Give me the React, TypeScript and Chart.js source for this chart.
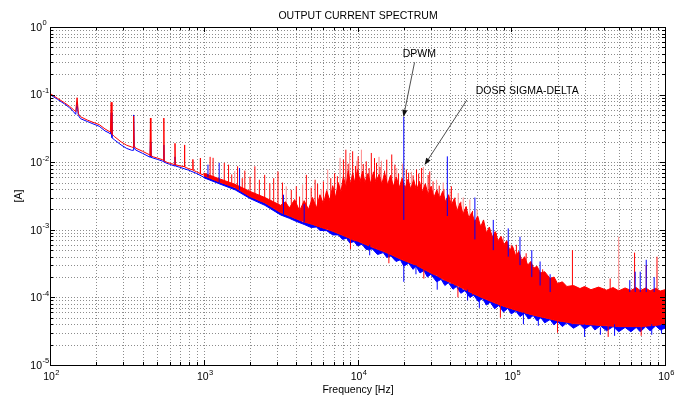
import { useEffect, useRef } from "react";
import { Chart, registerables } from "chart.js";
Chart.register(...registerables);

// ---------- text ----------
const chartTitle = "OUTPUT CURRENT SPECTRUM";
const xTitle = "Frequency [Hz]";
const yTitle = "[A]";

// ---------- axes ----------
const xMajorTicks = [1e2, 1e3, 1e4, 1e5, 1e6];
const yMajorTicks = [1e-5, 1e-4, 1e-3, 1e-2, 1e-1, 1];
const minorSteps = [2, 3, 4, 5, 6, 7, 8, 9];

// ---------- low-frequency lines [Hz, A] ----------
const redLine: [number, number][] = [
  [100, 0.104], [112, 0.088], [124, 0.076], [134, 0.067], [142, 0.06], [147, 0.056],
  [150, 0.09], [153, 0.052], [158, 0.047], [175, 0.042], [190, 0.039], [209, 0.036],
  [228, 0.031], [243, 0.0285], [247, 0.028], [250, 0.077], [253, 0.026], [262, 0.024],
  [290, 0.02], [315, 0.0178], [340, 0.0168], [347, 0.0165], [350, 0.048], [353, 0.0175],
  [360, 0.0162], [400, 0.0145], [443, 0.0129], [447, 0.0127], [450, 0.045], [453, 0.0125],
  [470, 0.012], [500, 0.0115], [538, 0.0109], [547, 0.0107], [550, 0.045], [553, 0.0104],
  [580, 0.0099], [620, 0.0095], [647, 0.0092], [650, 0.019], [653, 0.0092], [700, 0.0088],
  [748, 0.0086], [750, 0.018], [752, 0.0085], [800, 0.008], [847, 0.0077], [850, 0.011],
  [853, 0.0076], [900, 0.0072], [948, 0.0068], [950, 0.0115], [952, 0.0067], [1000, 0.0065],
];
const blueLine: [number, number][] = [
  [100, 0.1], [112, 0.085], [124, 0.073], [134, 0.064], [142, 0.056], [147, 0.051],
  [150, 0.076], [153, 0.049], [158, 0.044], [175, 0.04], [190, 0.037], [209, 0.034],
  [228, 0.029], [243, 0.027], [247, 0.026], [250, 0.054], [253, 0.023], [262, 0.0215],
  [290, 0.018], [315, 0.016], [340, 0.015], [347, 0.015], [350, 0.05], [353, 0.0165],
  [360, 0.0152], [400, 0.0135], [443, 0.012], [447, 0.0119], [450, 0.02], [453, 0.0118],
  [500, 0.011], [538, 0.0104], [547, 0.0102], [550, 0.018], [553, 0.01], [600, 0.0093],
  [647, 0.0088], [650, 0.012], [653, 0.0088], [700, 0.0084], [800, 0.0076], [900, 0.0068],
  [1000, 0.006],
];

// ---------- noise band: lower edge of the red trace ----------
const redBottomFreq = [
  1000, 1260, 1600, 2000, 2500, 3160, 3600, 4000, 4500, 5000, 5700, 6300, 6900, 7500, 8000,
  8500, 8900, 9500, 10000, 11400, 12500, 14700, 16500, 19000, 21500, 24000, 27000, 30000,
  32700, 37000, 41800, 47000, 53800, 61000, 69000, 78000, 89000, 100000, 114000, 130000,
  147000, 165000, 179000, 200000, 230000, 254000, 300000, 350000, 417000, 500000, 600000,
  690000, 800000, 900000, 1000000,
];
const redBottom = [
  0.0063, 0.0051, 0.0042, 0.0031, 0.0025, 0.0018, 0.0016, 0.00145, 0.0013, 0.00122, 0.0011,
  0.00102, 0.00095, 0.00088, 0.00083, 0.00078, 0.00075, 0.0007, 0.00068, 0.0006, 0.00055,
  0.00048, 0.00043, 0.00037, 0.00033, 0.0003, 0.00026, 0.00023, 0.00021, 0.00018, 0.00016,
  0.00014, 0.00012, 0.000105, 0.000093, 0.000083, 0.000074, 0.000068, 0.000062, 0.000057,
  0.000053, 0.00005, 0.000048, 0.000045, 0.000043, 0.000041, 0.00004, 0.000039, 0.000038,
  0.000037, 0.000037, 0.000037, 0.000038, 0.000039, 0.00004,
];

// ---------- noise band: ragged lower edge of the blue trace [Hz, A] ----------
const blueBottom: [number, number][] = [
  [1000, 0.0059], [1260, 0.0048], [1600, 0.0039], [2000, 0.0029], [2500, 0.0023], [3160, 0.00166],
  [3600, 0.00148], [4000, 0.00133], [4500, 0.0012], [5000, 0.00108], [5400, 0.0011], [5700, 0.00098],
  [6300, 0.00097], [6900, 0.00084], [7500, 0.00084], [8000, 0.00072], [8500, 0.00075], [8900, 0.00064],
  [9500, 0.00067], [10000, 0.00058], [10700, 0.00061], [11400, 0.00051], [12500, 0.00052], [13500, 0.00043],
  [14700, 0.00046], [15500, 0.00039], [16500, 0.00041], [17800, 0.00034], [19000, 0.00036], [20000, 0.00029],
  [21500, 0.00032], [23000, 0.00026], [24000, 0.00029], [25500, 0.00023], [27000, 0.00025], [28500, 0.0002],
  [30000, 0.00022], [32700, 0.00017], [35000, 0.000185], [37000, 0.00015], [39000, 0.000165], [41800, 0.000132],
  [44000, 0.000145], [47000, 0.000115], [50000, 0.000126], [53800, 0.0001], [57000, 0.000108], [61000, 0.000087],
  [65000, 0.000096], [69000, 0.000077], [73000, 0.000085], [78000, 0.000068], [83000, 0.000076], [89000, 0.000061],
  [95000, 0.000069], [100000, 0.000057], [107000, 0.000063], [114000, 0.000052], [122000, 0.000058], [130000, 0.000048],
  [139000, 0.000054], [147000, 0.000045], [156000, 0.00005], [165000, 0.000042], [179000, 0.000047], [190000, 0.000039],
  [200000, 0.000044], [215000, 0.000037], [230000, 0.000042], [254000, 0.000035], [280000, 0.00004], [300000, 0.000034],
  [330000, 0.000039], [350000, 0.000033], [380000, 0.000038], [417000, 0.000032], [460000, 0.000037], [500000, 0.000031],
  [550000, 0.000036], [600000, 0.000031], [650000, 0.000036], [690000, 0.000031], [750000, 0.000037], [800000, 0.000032],
  [870000, 0.000038], [930000, 0.000033], [1000000, 0.000035],
];

// ---------- noise band: ragged upper edge of the red core [Hz, A] ----------
const redTop: [number, number][] = [
  [1000, 0.0069], [1260, 0.0057], [1600, 0.0047], [2000, 0.0037], [2500, 0.003], [3160, 0.0023],
  [3400, 0.0026], [3600, 0.0021], [3900, 0.0028], [4200, 0.0019], [4500, 0.0027], [4800, 0.002],
  [5100, 0.003], [5400, 0.0021], [5700, 0.0033], [6000, 0.0024], [6300, 0.0038], [6600, 0.0027],
  [6900, 0.0045], [7200, 0.003], [7500, 0.005], [7800, 0.0036], [8100, 0.0062], [8400, 0.0042],
  [8700, 0.0075], [9000, 0.0047], [9300, 0.007], [9600, 0.005], [10000, 0.0078], [10400, 0.0052],
  [10800, 0.0074], [11200, 0.005], [11700, 0.0068], [12200, 0.0048], [12700, 0.0072], [13200, 0.005],
  [13800, 0.0066], [14400, 0.0047], [15000, 0.007], [15700, 0.0046], [16400, 0.0064], [17100, 0.0044],
  [17900, 0.006], [18700, 0.0042], [19500, 0.0058], [20400, 0.0041], [21300, 0.0056], [22200, 0.004],
  [23200, 0.0055], [24200, 0.0038], [25300, 0.0052], [26400, 0.0036], [27600, 0.0048], [28800, 0.0033],
  [30100, 0.0044], [31400, 0.003], [32800, 0.0039], [34300, 0.0029], [35800, 0.0037], [37400, 0.0026],
  [39100, 0.0033], [40800, 0.0023], [42600, 0.0029], [44500, 0.0019], [46500, 0.0025], [48600, 0.0017],
  [50800, 0.0022], [53000, 0.0015], [55400, 0.0018], [57900, 0.0013], [60500, 0.0016], [63200, 0.0011],
  [66000, 0.0014], [69000, 0.0009], [72000, 0.0011], [75300, 0.00078], [78600, 0.00094], [82100, 0.00069],
  [85800, 0.0008], [89600, 0.0006], [93600, 0.00069], [97800, 0.0005], [102000, 0.00057], [107000, 0.00041],
  [112000, 0.00048], [117000, 0.00035], [122000, 0.0004], [128000, 0.0003], [134000, 0.00034], [140000, 0.00027],
  [147000, 0.00029], [155000, 0.00023], [165000, 0.00024], [179000, 0.00019], [190000, 0.0002], [200000, 0.00016],
  [215000, 0.00017], [230000, 0.000145], [254000, 0.00015], [280000, 0.000135], [300000, 0.000145], [330000, 0.00013],
  [370000, 0.000142], [417000, 0.000128], [460000, 0.00014], [500000, 0.000125], [550000, 0.000138], [600000, 0.000127],
  [650000, 0.00014], [690000, 0.000126], [750000, 0.000138], [800000, 0.000125], [870000, 0.000136], [930000, 0.000124],
  [1000000, 0.00013],
];

// ---------- spikes [Hz, from A, to A] ----------
const redSpikes: [number, number, number][] = [
  [1100, 0.006, 0.012], [1150, 0.0057, 0.0116], [1360, 0.0048, 0.0098], [1450, 0.0045, 0.0092],
  [1520, 0.0044, 0.0066], [1660, 0.004, 0.0087], [1780, 0.0037, 0.0058], [1850, 0.0034, 0.0075],
  [2000, 0.0031, 0.0061], [2150, 0.0029, 0.0087], [2300, 0.0027, 0.0055], [2490, 0.0025, 0.0065],
  [2690, 0.0023, 0.0049], [2850, 0.0021, 0.0058], [3040, 0.0019, 0.0073], [3250, 0.0018, 0.005],
  [3710, 0.0016, 0.0039], [4000, 0.00145, 0.0044], [4200, 0.0014, 0.0031], [4650, 0.0013, 0.0065],
  [5000, 0.0012, 0.0042], [5300, 0.00115, 0.0055], [5500, 0.0011, 0.0048], [6000, 0.00105, 0.0052],
  [6700, 0.001, 0.0058], [7100, 0.00095, 0.0069], [7400, 0.0009, 0.0062], [8100, 0.00085, 0.0109],
  [8400, 0.00082, 0.0153], [8700, 0.0008, 0.0095], [9300, 0.0007, 0.0145], [9700, 0.0007, 0.0088],
  [10100, 0.0007, 0.0122], [10900, 0.00065, 0.0094], [11400, 0.0006, 0.0103], [11900, 0.0006, 0.0082],
  [12300, 0.00058, 0.0137], [12900, 0.00056, 0.0115], [13300, 0.00055, 0.0098], [14000, 0.0005, 0.0085],
  [15000, 0.00048, 0.0075], [15500, 0.00046, 0.0109], [16700, 0.00043, 0.013], [17500, 0.0004, 0.0092],
  [18500, 0.0004, 0.0068], [20800, 0.00035, 0.0078], [21500, 0.00033, 0.007], [23000, 0.00031, 0.0064],
  [24200, 0.0003, 0.0078], [25000, 0.00029, 0.0068], [26100, 0.00028, 0.0082], [28800, 0.00026, 0.0065],
  [29500, 0.00025, 0.0073], [31000, 0.00022, 0.0052], [34000, 0.0002, 0.0045], [36500, 0.00018, 0.004],
  [40800, 0.00016, 0.0044], [43000, 0.00015, 0.003], [47000, 0.00014, 0.0026], [51000, 0.00013, 0.0022],
  [56000, 0.00011, 0.0019], [62600, 0.0001, 0.0012], [66000, 0.0001, 0.0011], [72000, 0.00009, 0.001],
  [80000, 0.00008, 0.0009], [100000, 0.00007, 0.0006], [108000, 0.00007, 0.0006], [125000, 0.00006, 0.00045],
  [160000, 0.00005, 0.00026], [250000, 0.00004, 0.0005], [440000, 0.000038, 0.00019], [634000, 0.000037, 0.00046],
  [755000, 0.000037, 0.0003], [887000, 0.000038, 0.0004],
  [9000, 0.00052, 0.0008], [16000, 0.00032, 0.00045], [27000, 0.00019, 0.00027], [45000, 0.0001, 0.00014],
  [85000, 0.00005, 0.00008], [200000, 0.00003, 0.000045], [427000, 0.000026, 0.00004], [700000, 0.000027, 0.00004],
];
const faintRedSpikes: [number, number, number][] = [
  [1590, 0.0042, 0.0074], [3440, 0.0017, 0.0044], [4400, 0.0013, 0.0047], [5800, 0.0011, 0.004],
  [6400, 0.001, 0.0078], [7700, 0.0009, 0.0116], [8900, 0.00075, 0.0137], [9900, 0.0007, 0.0105],
  [10600, 0.00066, 0.0153], [13800, 0.00052, 0.012], [14300, 0.0005, 0.0105], [18000, 0.0004, 0.0082],
  [19600, 0.0004, 0.0095], [22400, 0.00032, 0.0072], [26800, 0.0003, 0.0085], [32700, 0.00021, 0.0055],
  [36100, 0.00018, 0.005], [40000, 0.00016, 0.004], [45200, 0.00014, 0.0035], [48700, 0.00013, 0.003],
  [53800, 0.00012, 0.0028], [60000, 0.00011, 0.002], [89000, 0.000075, 0.00079], [500000, 0.000038, 0.00079],
];
const blueSpikes: [number, number, number][] = [
  [1065, 0.006, 0.0092], [1260, 0.005, 0.0098], [1710, 0.0039, 0.0082], [3300, 0.0017, 0.0033],
  [4500, 0.0013, 0.0024], [20000, 0.0014, 0.047], [20000, 0.00017, 0.0003], [33000, 0.00013, 0.0002],
  [38400, 0.0016, 0.0122], [58000, 0.00072, 0.003], [62000, 0.00007, 0.0001], [76400, 0.0005, 0.0014],
  [95600, 0.0004, 0.00105], [114000, 0.0003, 0.00079], [120000, 0.00004, 0.00006], [136000, 0.0002, 0.0005],
  [154000, 0.00015, 0.00034], [179000, 0.00012, 0.00022], [300000, 0.000026, 0.00004],
  [470000, 0.000027, 0.00004], [590000, 0.00012, 0.00018], [640000, 0.00012, 0.00024],
  [690000, 0.00012, 0.00024], [755000, 0.00012, 0.00036], [820000, 0.000028, 0.00004],
  [850000, 0.00012, 0.0002], [12000, 0.00042, 0.0006], [24000, 0.00022, 0.0003], [52000, 0.00009, 0.00013],
  [150000, 0.000038, 0.00005], [380000, 0.000028, 0.000036], [950000, 0.000029, 0.00004],
];

// ---------- annotations (data coordinates) ----------
const dpwmLabel = { text: "DPWM", x: 19700, y: 0.36, tailX: 23500, tailY: 0.3, tipX: 19900, tipY: 0.0467 };
const dosrLabel = { text: "DOSR SIGMA-DELTA", x: 58800, y: 0.103, tailX: 51400, tailY: 0.083, tipX: 27300, tipY: 0.0091 };

const FONT = '"Liberation Sans", Arial, Helvetica, sans-serif';
const RED = "#ff0000";
const BLUE = "#0000ff";
const PINK = "#ff8a8a";

const pts = (a: [number, number][]) => a.map(([x, y]) => ({ x, y }));
const spikes = (s: [number, number, number][]) =>
  s
    .slice()
    .sort((a, b) => a[0] - b[0])
    .flatMap(([f, lo, hi]) => [{ x: f, y: lo }, { x: f, y: hi }, { x: f, y: NaN }]);

const matlabPlugin = {
  id: "matlabAxes",
  beforeDatasetsDraw(chart: any) {
    const { ctx, chartArea } = chart;
    const { left, right, top, bottom } = chartArea;
    const xs = chart.scales.x;
    const ys = chart.scales.y;
    ctx.save();
    ctx.fillStyle = "#ffffff";
    ctx.fillRect(left, top, right - left, bottom - top);
    ctx.strokeStyle = "#8c8c8c";
    ctx.lineWidth = 1;
    ctx.setLineDash([1, 2]);
    const xGrid = xMajorTicks.concat(xMajorTicks.slice(0, -1).flatMap((m) => minorSteps.map((k) => m * k)));
    const yGrid = yMajorTicks.concat(yMajorTicks.slice(0, -1).flatMap((m) => minorSteps.map((k) => m * k)));
    ctx.beginPath();
    for (const v of xGrid) {
      const p = Math.round(xs.getPixelForValue(v)) + 0.5;
      ctx.moveTo(p, top);
      ctx.lineTo(p, bottom);
    }
    for (const v of yGrid) {
      const p = Math.round(ys.getPixelForValue(v)) + 0.5;
      ctx.moveTo(left, p);
      ctx.lineTo(right, p);
    }
    ctx.stroke();
    ctx.restore();
  },
  afterDatasetsDraw(chart: any) {
    const { ctx, chartArea } = chart;
    const { left, right, top, bottom } = chartArea;
    const xs = chart.scales.x;
    const ys = chart.scales.y;
    ctx.save();
    ctx.strokeStyle = "#000";
    ctx.lineWidth = 1;
    ctx.setLineDash([]);
    ctx.strokeRect(left + 0.5, top + 0.5, right - left, bottom - top);
    ctx.beginPath();
    const tickX = (v: number, len: number) => {
      const p = Math.round(xs.getPixelForValue(v)) + 0.5;
      ctx.moveTo(p, bottom);
      ctx.lineTo(p, bottom - len);
      ctx.moveTo(p, top);
      ctx.lineTo(p, top + len);
    };
    const tickY = (v: number, len: number) => {
      const p = Math.round(ys.getPixelForValue(v)) + 0.5;
      ctx.moveTo(left, p);
      ctx.lineTo(left + len, p);
      ctx.moveTo(right, p);
      ctx.lineTo(right - len, p);
    };
    xMajorTicks.forEach((m, i) => {
      tickX(m, 5);
      if (i < xMajorTicks.length - 1) minorSteps.forEach((k) => tickX(m * k, 3));
    });
    yMajorTicks.forEach((m, i) => {
      tickY(m, 5);
      if (i < yMajorTicks.length - 1) minorSteps.forEach((k) => tickY(m * k, 3));
    });
    ctx.stroke();

    ctx.fillStyle = "#000";
    ctx.textBaseline = "alphabetic";
    const big = `10.5px ${FONT}`;
    const small = `7.5px ${FONT}`;
    for (const v of xMajorTicks) {
      const px = xs.getPixelForValue(v);
      const e = String(Math.round(Math.log10(v)));
      ctx.font = big;
      const w1 = ctx.measureText("10").width;
      ctx.textAlign = "left";
      ctx.fillText("10", px - w1 / 2 - 1, 380);
      ctx.font = small;
      ctx.fillText(e, px + w1 / 2 - 0.5, 375);
    }
    for (const v of yMajorTicks) {
      const py = ys.getPixelForValue(v);
      const e = String(Math.round(Math.log10(v)));
      ctx.font = big;
      ctx.textAlign = "right";
      ctx.fillText("10", 42, py + 3.8);
      ctx.font = small;
      ctx.textAlign = "left";
      ctx.fillText(e, 42.5, py - 1.6);
    }

    ctx.font = big;
    ctx.textAlign = "center";
    ctx.fillText(chartTitle, (left + right) / 2 + 0.5, 19.3);
    ctx.fillText(xTitle, (left + right) / 2 + 0.5, 392.6);
    ctx.save();
    ctx.translate(22, (top + bottom) / 2);
    ctx.rotate(-Math.PI / 2);
    ctx.fillText(yTitle, 0, 0);
    ctx.restore();

    const arrow = (x1: number, y1: number, x2: number, y2: number) => {
      const a = Math.atan2(y2 - y1, x2 - x1);
      const hl = 7, hw = 2.6;
      const c = Math.cos(a), s = Math.sin(a);
      ctx.strokeStyle = "#3a3a3a";
      ctx.lineWidth = 0.9;
      ctx.beginPath();
      ctx.moveTo(x1, y1);
      ctx.lineTo(x2 - hl * c, y2 - hl * s);
      ctx.stroke();
      ctx.fillStyle = "#111";
      ctx.beginPath();
      ctx.moveTo(x2, y2);
      ctx.lineTo(x2 - hl * c + hw * s, y2 - hl * s - hw * c);
      ctx.lineTo(x2 - hl * c - hw * s, y2 - hl * s + hw * c);
      ctx.closePath();
      ctx.fill();
    };
    for (const L of [dpwmLabel, dosrLabel]) {
      ctx.font = big;
      ctx.fillStyle = "#000";
      ctx.textAlign = "left";
      ctx.fillText(L.text, xs.getPixelForValue(L.x), ys.getPixelForValue(L.y));
      arrow(
        xs.getPixelForValue(L.tailX), ys.getPixelForValue(L.tailY),
        xs.getPixelForValue(L.tipX), ys.getPixelForValue(L.tipY)
      );
    }
    ctx.restore();
  },
};

export default function App() {
  const ref = useRef<HTMLCanvasElement>(null);
  useEffect(() => {
    document.body.style.margin = "0";
    document.body.style.background = "#ffffff";
    const line = { pointRadius: 0, borderWidth: 1, tension: 0, fill: false };
    const chart = new Chart(ref.current as HTMLCanvasElement, {
      type: "line",
      data: {
        datasets: [
          { ...line, label: "blue band", data: pts(blueBottom), borderColor: BLUE, backgroundColor: BLUE, fill: 1, order: 10 } as any,
          { ...line, label: "red low", data: redBottomFreq.map((x, i) => ({ x, y: redBottom[i] })), borderColor: RED, order: 8 },
          { ...line, label: "red band", data: pts(redTop), borderColor: RED, backgroundColor: RED, fill: 1, order: 7 } as any,
          { ...line, label: "blue", data: pts(blueLine), borderColor: BLUE, order: 9 },
          { ...line, label: "red", data: pts(redLine), borderColor: RED, order: 6 },
          { ...line, label: "red spikes", data: spikes(redSpikes), borderColor: RED, order: 5 },
          { ...line, label: "faint spikes", data: spikes(faintRedSpikes), borderColor: PINK, order: 7.5 },
          { ...line, label: "blue spikes", data: spikes(blueSpikes), borderColor: BLUE, order: 3 },
        ],
      },
      options: {
        animation: false,
        responsive: false,
        devicePixelRatio: 1,
        events: [],
        layout: { padding: { left: 50, right: 15, top: 27, bottom: 31 } },
        plugins: { legend: { display: false }, tooltip: { enabled: false }, title: { display: false } },
        scales: {
          x: { type: "logarithmic", min: 100, max: 1e6, display: false },
          y: { type: "logarithmic", min: 1e-5, max: 1, display: false },
        },
      },
      plugins: [matlabPlugin],
    });
    return () => chart.destroy();
  }, []);
  return (
    <div style={{ width: 680, height: 396 }}>
      <canvas ref={ref} width={680} height={396} style={{ display: "block" }} />
    </div>
  );
}
